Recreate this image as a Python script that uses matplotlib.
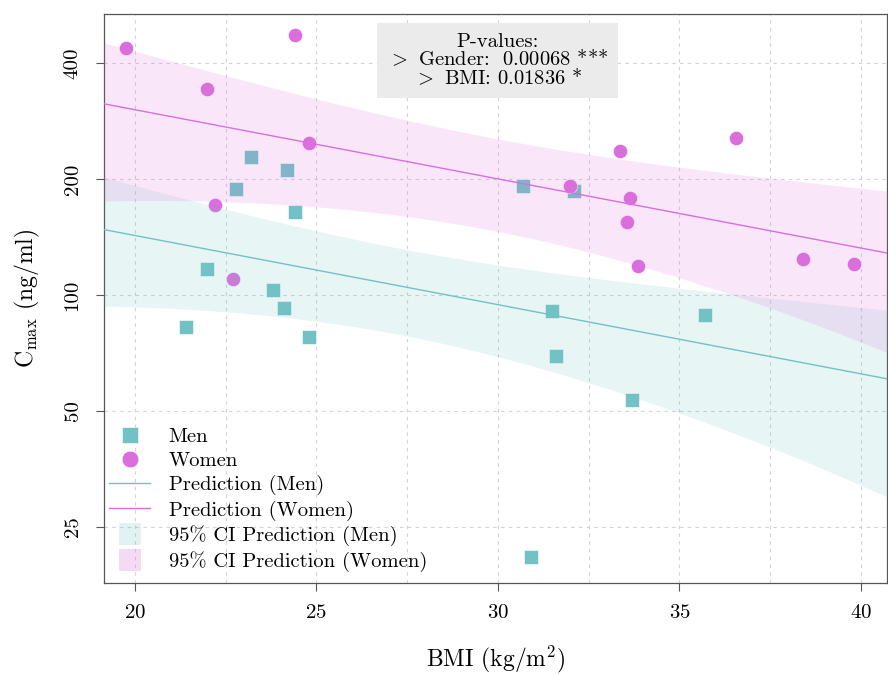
import numpy as np
import matplotlib
matplotlib.use('Agg')
import matplotlib.pyplot as plt
from matplotlib.ticker import FixedLocator
from matplotlib.lines import Line2D

# data
men_bmi  = [23.2, 24.2, 22.8, 24.4, 22.0, 23.8, 24.1, 21.4, 24.8, 30.7, 32.1, 31.5, 31.6, 35.7, 33.7, 30.9]
men_cmax = [228, 211, 188, 164, 117, 103, 92.3, 82.5, 77.6, 192, 186, 90.7, 69.6, 88.8, 53.3, 20.9]
women_bmi  = [19.75, 24.4, 22.0, 24.8, 22.2, 22.7, 36.55, 33.35, 32.0, 33.65, 33.55, 33.85, 38.4, 39.8]
women_cmax = [437, 473, 342, 248, 171, 110, 256, 236, 192, 178, 155, 119, 124, 120]
pval_lines = ['P-values:', r'${>}$ Gender:  0.00068 ***', r'${>}$ BMI: 0.01836 *']
yticks = [25, 50, 100, 200, 400]
xticks = [20, 25, 30, 35, 40]

c_men = '#72C2C5'
c_women = '#DA6EDD'

plt.rcParams['font.family'] = 'serif'
plt.rcParams['font.serif'] = ['cmr10', 'DejaVu Serif']
plt.rcParams['mathtext.fontset'] = 'cm'
plt.rcParams['axes.unicode_minus'] = False
plt.rcParams['axes.formatter.use_mathtext'] = True

# log-linear model: ln(Cmax) ~ BMI + gender
bmi = np.array(men_bmi + women_bmi)
y = np.log(np.array(men_cmax + women_cmax))
g = np.array([0]*len(men_bmi) + [1]*len(women_bmi))
X = np.column_stack([np.ones_like(bmi), bmi, g])
beta, res, rk, sv = np.linalg.lstsq(X, y, rcond=None)
s2 = np.sum((y - X @ beta)**2) / (len(y) - 3)
cov = s2 * np.linalg.inv(X.T @ X)

xlo, xhi = 19.15, 40.72
xg = np.linspace(xlo, xhi, 200)

fig = plt.figure(figsize=(8.88, 6.75), dpi=100)
ax = fig.add_axes([0.117, 0.1363, 0.882, 0.8430])

ax.scatter(men_bmi, men_cmax, marker='s', s=92, color=c_men, edgecolor='white', linewidth=0.4, zorder=2)
ax.scatter(women_bmi, women_cmax, marker='o', s=105, color=c_women, edgecolor='white', linewidth=0.4, zorder=2)

for gi, col in [(0, c_men), (1, c_women)]:
    Xg = np.column_stack([np.ones_like(xg), xg, np.full_like(xg, gi)])
    pred = np.exp(Xg @ beta)
    se = np.sqrt(np.einsum('ij,jk,ik->i', Xg, cov, Xg))
    ax.plot(xg, pred, color=col, lw=1.0, zorder=4)
    ax.fill_between(xg, pred*(1 - 1.96*se), pred*(1 + 1.96*se), color=col, alpha=0.16, lw=0, zorder=3)

ax.set_yscale('log')
ax.set_xlim(xlo, xhi)
ax.set_ylim(17.89, 536)
ax.yaxis.set_major_locator(FixedLocator(yticks))
ax.yaxis.set_minor_locator(FixedLocator([]))
ax.set_yticklabels([str(v) for v in yticks], rotation=90, va='center')
ax.xaxis.set_major_locator(FixedLocator(xticks))
ax.xaxis.set_minor_locator(FixedLocator(np.arange(22.5, 40, 5)))
ax.tick_params(axis='both', which='major', labelsize=15, length=6, color='#555555', width=0.8)
ax.tick_params(axis='x', which='minor', length=0)
ax.tick_params(axis='x', pad=9)
ax.tick_params(axis='y', pad=10)
ax.grid(True, which='both', color='#d2d2d2', linestyle=(0, (3, 4)), linewidth=0.8)
ax.set_axisbelow(True)
for sp in ax.spines.values():
    sp.set_color('#555555')
    sp.set_linewidth(0.9)

ax.set_xlabel(r'BMI (kg/m$^2$)', fontsize=17, labelpad=16)
ax.set_ylabel(r'$\mathrm{C}_{\mathrm{max}}$ (ng/ml)', fontsize=17, labelpad=16)

ax.text(30, 0.918, '\n'.join(pval_lines), transform=ax.get_xaxis_transform(), ha='center', va='center',
        fontsize=14.8, linespacing=0.82,
        bbox=dict(boxstyle='square,pad=0.5', fc='#ebebeb', ec='none'))

handles = [
    Line2D([], [], marker='s', ls='none', ms=11, color=c_men, mec='white', mew=0.4),
    Line2D([], [], marker='o', ls='none', ms=12, color=c_women, mec='white', mew=0.4),
    Line2D([], [], color=c_men, lw=1.0),
    Line2D([], [], color=c_women, lw=1.0),
    Line2D([], [], marker='s', ls='none', ms=16, color=c_men, alpha=0.2, mew=0),
    Line2D([], [], marker='s', ls='none', ms=16, color=c_women, alpha=0.25, mew=0),
]
labels = ['Men', 'Women', 'Prediction (Men)', 'Prediction (Women)',
          '95% CI Prediction (Men)', '95% CI Prediction (Women)']
ax.legend(handles, labels, loc='lower left', bbox_to_anchor=(-0.017, -0.014), frameon=False, fontsize=14.8,
          labelspacing=0.25, handlelength=2.0, handletextpad=0.9)

plt.savefig('out.png', dpi=100)
